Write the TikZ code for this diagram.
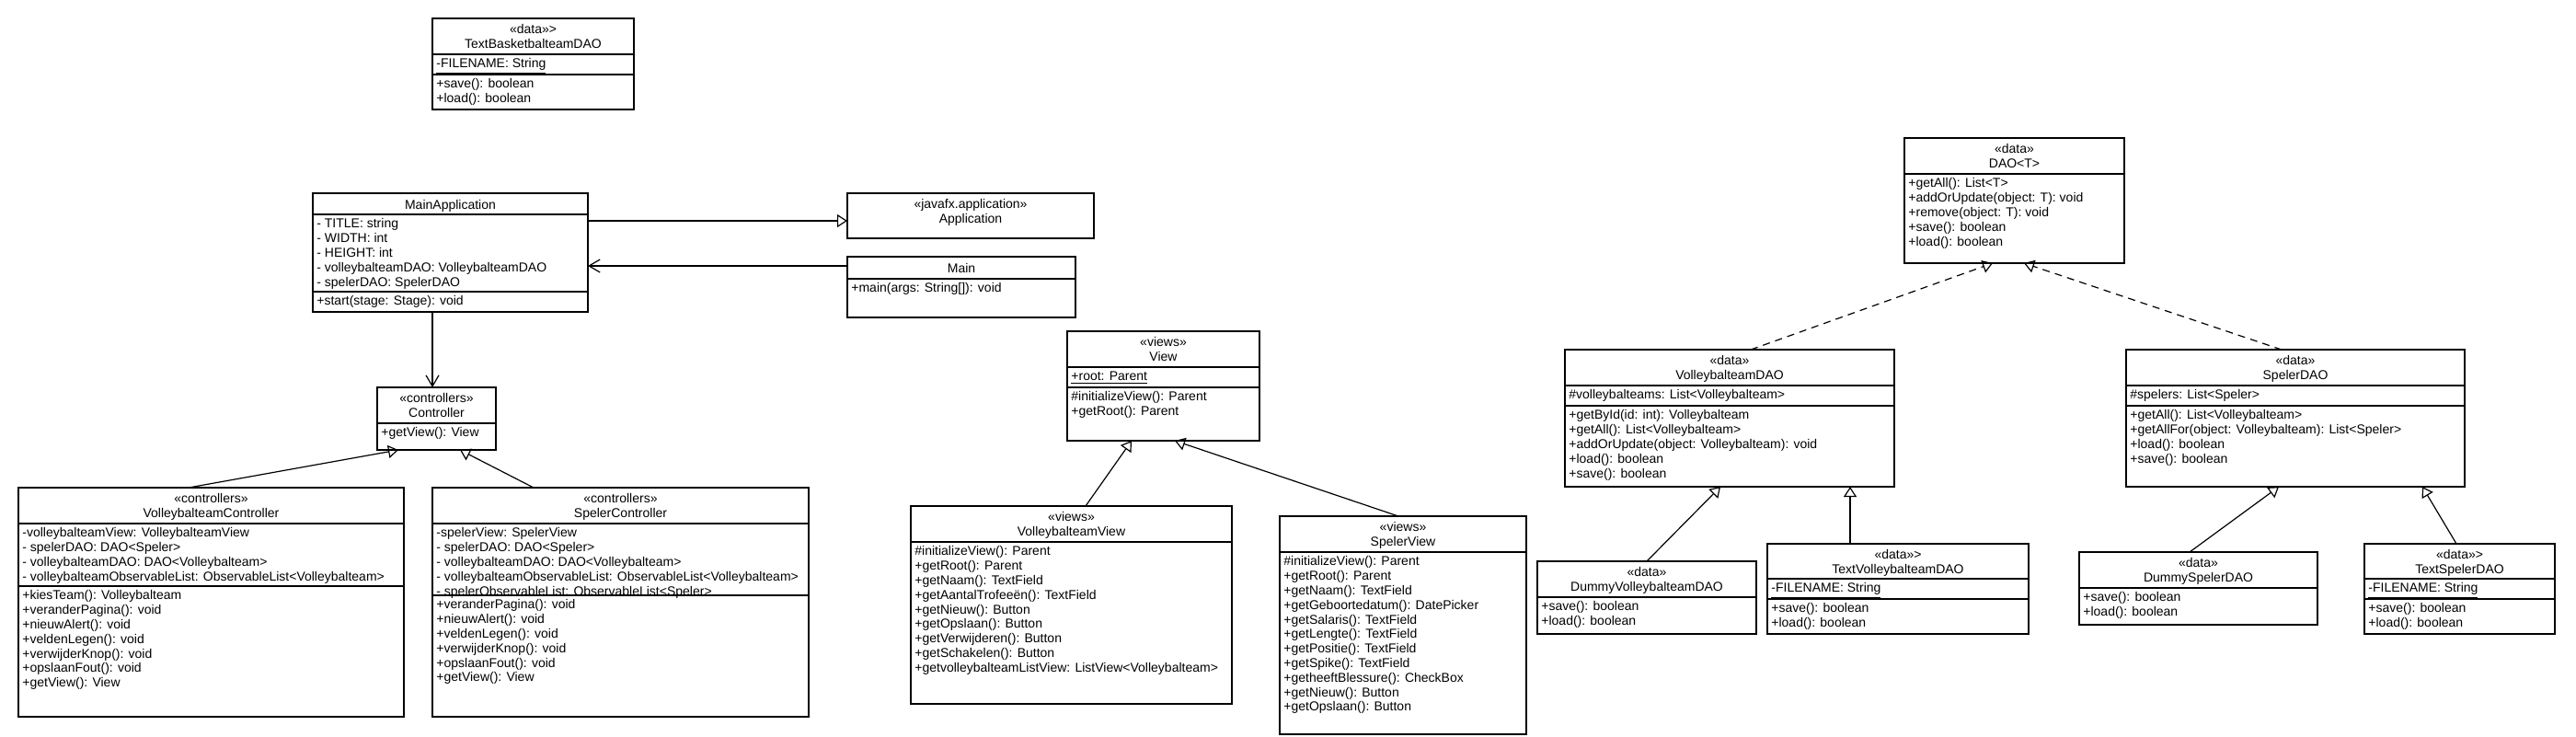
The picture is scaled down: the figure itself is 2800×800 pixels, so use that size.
\documentclass[tikz,border=0pt]{standalone}
\usepackage{fontspec}
\setmainfont{Liberation Sans}
\usetikzlibrary{arrows.meta,fit,calc}
\newcommand\fs{\rule{0pt}{6pt}}
% class box: name, x1, y1, x2, y2
\newcommand\cls[5]{%
  \coordinate (#1nw) at (#2,#3);
  \coordinate (#1se) at (#4,#5);
  \node[box, fit=(#1nw)(#1se)] (#1) {};}
% header: name, offset from top, text
\newcommand\hd[3]{\node[hdr, anchor=north] (#1h) at ($(#1.north)+(0,#2)$) {\fs #3};}
% separator: name, y
\newcommand\sepr[2]{\draw[sepl] (#1.west |- 0,#2) -- (#1.east |- 0,#2);}
% members: name, y of compartment top, text
\newcommand\mem[3]{\node[memb, anchor=north west] (#1m#2) at ($(#1.west |- 0,#2)+(4,2.5)$) {\fs #3};}
\begin{document}
\begin{tikzpicture}[x=0.5pt,y=-0.5pt,
  box/.style={draw, line width=0.6pt, inner sep=0pt, outer sep=0pt},
  sepl/.style={line width=0.6pt},
  hdr/.style={inner sep=0pt, align=center, font=\fontsize{7pt}{8pt}\selectfont},
  memb/.style={inner sep=0pt, align=left, font=\fontsize{7pt}{7.9pt}\selectfont},
  gen/.style={line width=0.6pt, -{Triangle[open,length=5.5pt,width=7pt]}},
  real/.style={gen, dash pattern=on 4pt off 3pt},
  assoc/.style={line width=0.6pt, -{Straight Barb[length=6pt,width=7pt]}}]
\fill[white] (0,0) rectangle (2800,800);
\useasboundingbox (0,0) rectangle (2800,800);

% TextBasketbalteamDAO
\cls{tb}{470}{20}{689}{119}
\hd{tb}{4.5}{«data»>\\TextBasketbalteamDAO}
\sepr{tb}{59}\sepr{tb}{81}
\mem{tb}{59}{\underline{-FILENAME: String}}
\mem{tb}{81}{+save(): boolean\\+load(): boolean}

% MainApplication
\cls{ma}{340}{210}{639}{339}
\hd{ma}{5}{MainApplication}
\sepr{ma}{233}\sepr{ma}{317}
\mem{ma}{233}{- TITLE: string\\- WIDTH: int\\- HEIGHT: int\\- volleybalteamDAO: VolleybalteamDAO\\- spelerDAO: SpelerDAO}
\mem{ma}{317}{+start(stage: Stage): void}

% Application
\cls{app}{921}{210}{1189}{259}
\hd{app}{4.5}{«javafx.application»\\Application}

% Main
\cls{mn}{921}{279}{1169}{345}
\hd{mn}{5}{Main}
\sepr{mn}{303}
\mem{mn}{303}{+main(args: String[]): void}

% Controller
\cls{ctl}{410}{421}{539}{489}
\hd{ctl}{4}{«controllers»\\Controller}
\sepr{ctl}{460}
\mem{ctl}{460}{+getView(): View}

% VolleybalteamController
\cls{vc}{20}{530}{439}{779}
\hd{vc}{4.5}{«controllers»\\VolleybalteamController}
\sepr{vc}{569}\sepr{vc}{637}
\mem{vc}{569}{-volleybalteamView: VolleybalteamView\\- spelerDAO: DAO<Speler>\\- volleybalteamDAO: DAO<Volleybalteam>\\- volleybalteamObservableList: ObservableList<Volleybalteam>}
\mem{vc}{637}{+kiesTeam(): Volleybalteam\\+veranderPagina(): void\\+nieuwAlert(): void\\+veldenLegen(): void\\+verwijderKnop(): void\\+opslaanFout(): void\\+getView(): View}

% SpelerController
\cls{sc}{470}{530}{879}{779}
\hd{sc}{4.5}{«controllers»\\SpelerController}
\sepr{sc}{569}\sepr{sc}{647}
\mem{sc}{569}{-spelerView: SpelerView\\- spelerDAO: DAO<Speler>\\- volleybalteamDAO: DAO<Volleybalteam>\\- volleybalteamObservableList: ObservableList<Volleybalteam>\\- spelerObservableList: ObservableList<Speler>}
\mem{sc}{647}{+veranderPagina(): void\\+nieuwAlert(): void\\+veldenLegen(): void\\+verwijderKnop(): void\\+opslaanFout(): void\\+getView(): View}

% View
\cls{vw}{1160}{360}{1369}{479}
\hd{vw}{4.5}{«views»\\View}
\sepr{vw}{399}\sepr{vw}{421}
\mem{vw}{399}{\underline{+root: Parent}}
\mem{vw}{421}{\#initializeView(): Parent\\+getRoot(): Parent}

% VolleybalteamView
\cls{vv}{990}{550}{1339}{765}
\hd{vv}{4.5}{«views»\\VolleybalteamView}
\sepr{vv}{589}
\mem{vv}{589}{\#initializeView(): Parent\\+getRoot(): Parent\\+getNaam(): TextField\\+getAantalTrofeeën(): TextField\\+getNieuw(): Button\\+getOpslaan(): Button\\+getVerwijderen(): Button\\+getSchakelen(): Button\\+getvolleybalteamListView: ListView<Volleybalteam>}

% SpelerView
\cls{sv}{1391}{561}{1659}{798}
\hd{sv}{4.5}{«views»\\SpelerView}
\sepr{sv}{600}
\mem{sv}{600}{\#initializeView(): Parent\\+getRoot(): Parent\\+getNaam(): TextField\\+getGeboortedatum(): DatePicker\\+getSalaris(): TextField\\+getLengte(): TextField\\+getPositie(): TextField\\+getSpike(): TextField\\+getheeftBlessure(): CheckBox\\+getNieuw(): Button\\+getOpslaan(): Button}

% DAO<T>
\cls{dao}{2070}{150}{2309}{286}
\hd{dao}{4.5}{«data»\\DAO<T>}
\sepr{dao}{189}
\mem{dao}{189}{+getAll(): List<T>\\+addOrUpdate(object: T): void\\+remove(object: T): void\\+save(): boolean\\+load(): boolean}

% VolleybalteamDAO
\cls{vd}{1701}{380}{2059}{529}
\hd{vd}{4.5}{«data»\\VolleybalteamDAO}
\sepr{vd}{419}\sepr{vd}{441}
\mem{vd}{419}{\#volleybalteams: List<Volleybalteam>}
\mem{vd}{441}{+getById(id: int): Volleybalteam\\+getAll(): List<Volleybalteam>\\+addOrUpdate(object: Volleybalteam): void\\+load(): boolean\\+save(): boolean}

% SpelerDAO
\cls{sd}{2311}{380}{2679}{529}
\hd{sd}{4.5}{«data»\\SpelerDAO}
\sepr{sd}{419}\sepr{sd}{441}
\mem{sd}{419}{\#spelers: List<Speler>}
\mem{sd}{441}{+getAll(): List<Volleybalteam>\\+getAllFor(object: Volleybalteam): List<Speler>\\+load(): boolean\\+save(): boolean}

% DummyVolleybalteamDAO
\cls{dvd}{1671}{610}{1909}{689}
\hd{dvd}{4.5}{«data»\\DummyVolleybalteamDAO}
\sepr{dvd}{649}
\mem{dvd}{649}{+save(): boolean\\+load(): boolean}

% TextVolleybalteamDAO
\cls{tvd}{1921}{591}{2205}{689}
\hd{tvd}{4}{«data»>\\TextVolleybalteamDAO}
\sepr{tvd}{629}\sepr{tvd}{651}
\mem{tvd}{629}{\underline{-FILENAME: String}}
\mem{tvd}{651}{+save(): boolean\\+load(): boolean}

% DummySpelerDAO
\cls{dsd}{2260}{600}{2519}{679}
\hd{dsd}{4.5}{«data»\\DummySpelerDAO}
\sepr{dsd}{639}
\mem{dsd}{639}{+save(): boolean\\+load(): boolean}

% TextSpelerDAO
\cls{tsd}{2570}{591}{2777}{689}
\hd{tsd}{4}{«data»>\\TextSpelerDAO}
\sepr{tsd}{629}\sepr{tsd}{651}
\mem{tsd}{629}{\underline{-FILENAME: String}}
\mem{tsd}{651}{+save(): boolean\\+load(): boolean}

% connectors
\draw[gen] (ma.east |- 0,240) -- (app.west |- 0,240);
\draw[assoc] (mn.west |- 0,289) -- (ma.east |- 0,289);
\draw[assoc] (ma.south -| 470,0) -- (ctl.north -| 470,0);
\draw[gen] ($(vc.north west)+(185,0)$) -- ($(ctl.south west)+(23,0)$);
\draw[gen] ($(sc.north west)+(110,0)$) -- ($(ctl.south west)+(90,0)$);
\draw[gen] ($(vv.north west)+(190,0)$) -- ($(vw.south west)+(70,0)$);
\draw[gen] ($(sv.north west)+(129,0)$) -- ($(vw.south west)+(117,0)$);
\draw[real] ($(vd.north west)+(202,0)$) -- ($(dao.south west)+(96,0)$);
\draw[real] ($(sd.north west)+(169,0)$) -- ($(dao.south west)+(130,0)$);
\draw[gen] ($(dvd.north west)+(119,0)$) -- ($(vd.south west)+(169,0)$);
\draw[gen] ($(tvd.north west)+(90,0)$) -- ($(vd.south west)+(310,0)$);
\draw[gen] ($(dsd.north west)+(120,0)$) -- ($(sd.south west)+(166,0)$);
\draw[gen] ($(tsd.north west)+(100,0)$) -- ($(sd.south west)+(322,0)$);
\end{tikzpicture}
\end{document}
